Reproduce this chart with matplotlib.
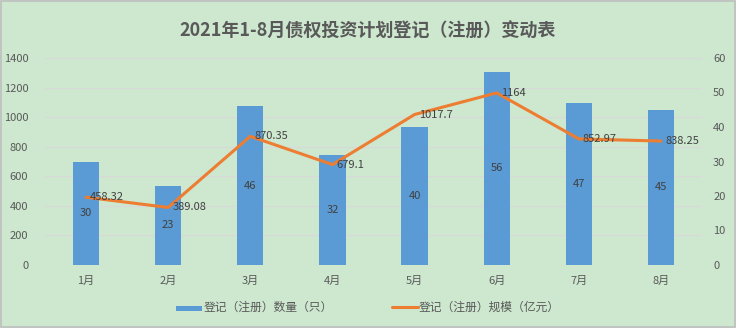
import matplotlib
matplotlib.use("Agg")
import matplotlib.pyplot as plt
from matplotlib.patches import Rectangle
import numpy as np

plt.rcParams['font.family'] = ['Noto Sans CJK SC', 'DejaVu Sans']

months = ["1月", "2月", "3月", "4月", "5月", "6月", "7月", "8月"]
counts = [30, 23, 46, 32, 40, 56, 47, 45]
scale = [458.32, 389.08, 870.35, 679.1, 1017.7, 1164, 852.97, 838.25]
scale_labels = ["458.32", "389.08", "870.35", "679.1", "1017.7", "1164", "852.97", "838.25"]

bg = "#cde8cf"
fig = plt.figure(figsize=(7.36, 3.28), dpi=100, facecolor=bg)
ax = fig.add_axes([45/736, 1-265/328, (702-45)/736, (265-58)/328])
ax.set_facecolor(bg)
ax2 = ax.twinx()

x = np.arange(len(months))
ax2.bar(x, counts, width=0.32, color="#5b9bd5", zorder=2, label="登记（注册）数量（只）")
for xi, c in zip(x, counts):
    ax2.text(xi, c/2, str(c), ha="center", va="center", fontsize=8, color="#404040", zorder=3)
ax2.set_ylim(0, 60)
ax2.set_yticks(range(0, 61, 10))

ax.set_zorder(ax2.get_zorder()+1)
ax.patch.set_visible(False)
ax.plot(x, scale, color="#ed7d31", lw=2.2, zorder=4, label="登记（注册）规模（亿元）", solid_capstyle="round")
for xi, v, s in zip(x, scale, scale_labels):
    ax.text(xi+0.05, v, s, ha="left", va="center", fontsize=8, color="#404040", zorder=5)
ax.set_ylim(0, 1400)
ax.set_yticks(range(0, 1401, 200))
ax.set_xlim(-0.5, 7.5)
ax.set_xticks(x)
ax.set_xticklabels(months)

for yv in range(0, 1401, 200):
    ax2.axhline(yv*60/1400, color="#d9d9d9", lw=0.9, zorder=0)

for a in (ax, ax2):
    for sp in a.spines.values():
        sp.set_visible(False)
    a.tick_params(length=0, labelsize=8, colors="#595959")
ax.tick_params(axis="y", pad=12)
ax2.tick_params(axis="y", pad=8)
ax.tick_params(axis="x", pad=8)

fig.suptitle("2021年1-8月债权投资计划登记（注册）变动表", y=0.935, fontsize=13, fontweight="bold", color="#595959")

h1, l1 = ax2.get_legend_handles_labels()
h2, l2 = ax.get_legend_handles_labels()
leg = fig.legend(h1+h2, l1+l2, loc="center", bbox_to_anchor=(0.5, 0.062), ncol=2, frameon=False,
                 fontsize=8.5, handlelength=2.2, columnspacing=5, handletextpad=0.1, labelcolor="#595959")
for p in leg.get_patches():
    p.set_height(4)

fig.patches.append(Rectangle((0.001, 0.002), 0.997, 0.995, transform=fig.transFigure,
                             fill=False, edgecolor="#bfbfbf", lw=1.2))

fig.savefig("out.png", dpi=100, facecolor=bg)
